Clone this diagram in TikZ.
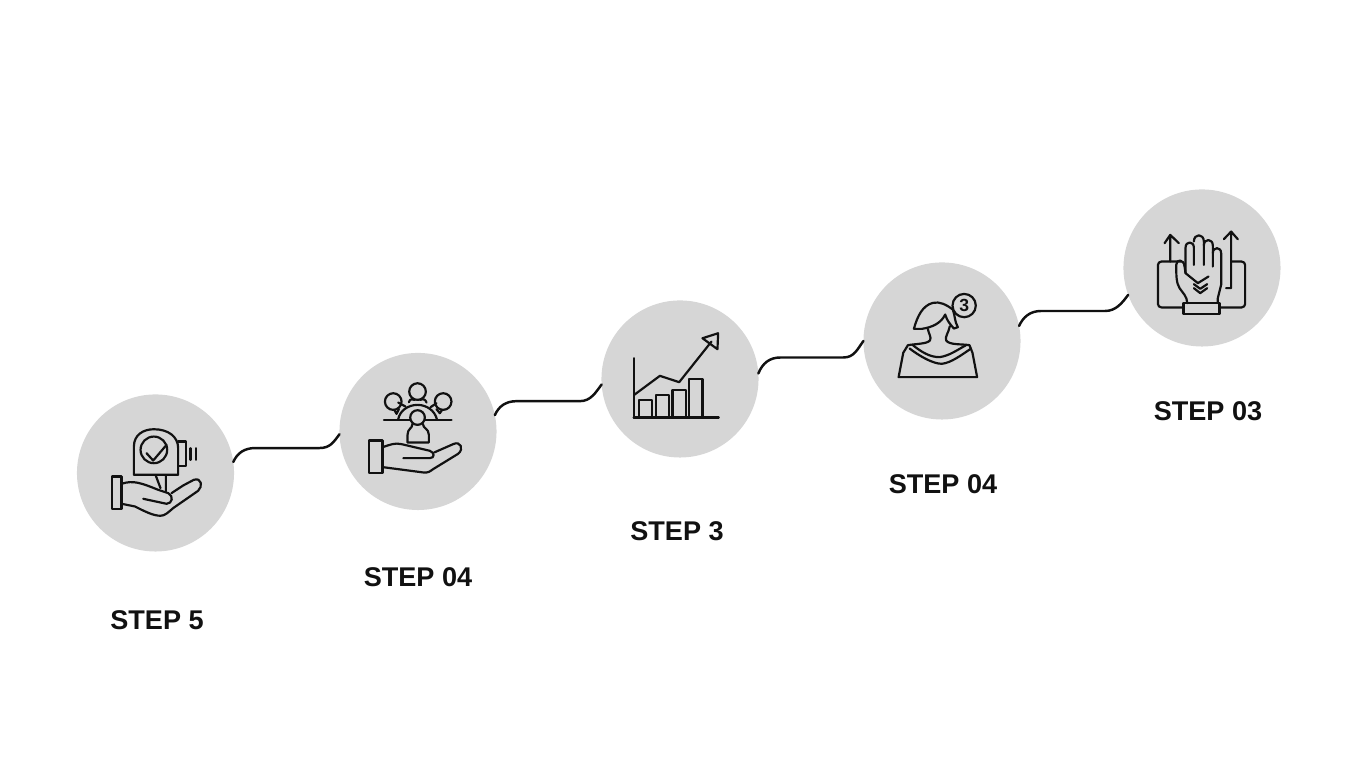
\documentclass[tikz,border=0pt]{standalone}
\usepackage{fontspec}
\usepackage{xcolor}
\setmainfont{Liberation Sans}
\definecolor{discgray}{HTML}{D6D6D6}
\definecolor{inkblack}{HTML}{111111}
\tikzset{
disc/.style={shape=circle,fill=discgray,minimum size=1.57cm,inner sep=0pt,outer sep=0pt},
steplabel/.style={font=\bfseries\fontsize{7.7pt}{9pt}\selectfont,text=inkblack,inner sep=0pt},
link/.style={line width=.7pt,inkblack,line cap=round},
icon/.style={x=0.0033333cm,y=-0.0033333cm,line width=.62pt,inkblack,line join=round,line cap=round}
}
\begin{document}
\begin{tikzpicture}[x=0.01cm,y=0.01cm]
\useasboundingbox(0,0)rectangle(1365,768);
\node[disc](s1)at(155.5,295){};
\node[disc](s2)at(418,336.5){};
\node[disc](s3)at(680,389){};
\node[disc](s4)at(942,427){};
\node[disc](s5)at(1202,500){};
\node[steplabel](l1)at(157,148){STEP 5};
\node[steplabel](l2)at(418,191){STEP 04};
\node[steplabel](l3)at(677,237){STEP 3};
\node[steplabel](l4)at(943,284){STEP 04};
\node[steplabel](l5)at(1208,357){STEP 03};
\draw[link](s1.8)..controls+(4,9)and+(-11,0)..++(22,14)--++(64,0)..controls+(11,0)and+(-6,-8)..(s2.182);
\draw[link](s2.12)..controls+(4,9)and+(-11,0)..++(22,14)--++(63,0)..controls+(11,0)and+(-6,-8)..(s3.184);
\draw[link](s3.4)..controls+(4,10)and+(-11,0)..++(22,16)--++(63,0)..controls+(11,0)and+(-6,-8)..(s4.180);
\draw[link](s4.11)..controls+(4,9)and+(-11,0)..++(22,15)--++(64,0)..controls+(11,0)and+(-6,-8)..(s5.200);
%hand and tape
\begin{scope}[shift={(70,378)},icon]
\draw(125,260)rectangle(155,358);
\draw(155,282)..controls(190,270)and(215,280)..(265,300)--(295,310)..controls(312,318)and(308,342)..(290,342)--(220,327);
\draw(155,342)--(195,350)..controls(225,365)and(250,378)..(272,378)..controls(285,378)and(295,368)..(310,355)--(385,303)..controls(400,290)and(395,262)..(372,270)--(340,287)--(305,310);
\draw(192,255)--(192,170)..controls(192,135)and(220,118)..(252,118)..controls(295,118)and(325,140)..(325,175)--(325,255)--cycle;
\draw(252,180)circle(40);
\draw(230,190)--(250,212)--(290,165);
\draw(325,155)--(348,155)--(348,228)--(325,228);
\draw(362,175)--(362,210)(378,175)--(378,210);
\draw(258,258)--(272,295)(288,258)--(288,305);
\end{scope}
%hand and people
\begin{scope}[shift={(335,418)},icon]
\draw(102,272)rectangle(143,370);
\draw(143,292)..controls(165,285)and(180,278)..(200,283)--(285,303)..controls(300,308)and(300,325)..(285,325)--(205,325);
\draw(143,352)--(265,368)..controls(280,370)and(285,365)..(295,358)--(370,312)..controls(388,298)and(378,272)..(355,283)--(298,308);
\draw(147,210)--(350,210);
\draw(190,208)..controls(195,182)and(220,165)..(248,165)..controls(275,165)and(300,182)..(306,208);
\draw[fill=discgray](248,203)circle(22);
\draw(233,222)..controls(232,238)and(218,235)..(218,255)--(218,278)--(282,278)--(282,255)..controls(282,235)and(265,238)..(264,222);
\draw(248,125)circle(25);
\draw(222,157)..controls(225,145)and(235,148)..(240,150)(256,150)..controls(265,146)and(272,148)..(275,158);
\draw(175,155)circle(25);
\draw(325,155)circle(25);
\draw(178,180)--(185,192)--(192,178)(190,158)--(212,170);
\draw(322,180)--(315,190)--(305,178)(305,160)--(287,172);
\end{scope}
%bars and arrow
\begin{scope}[shift={(595,473)},icon]
\draw(118,190)--(118,368)(116,368)--(372,368);
\draw(133,368)--(133,316)--(172,316)--(172,368);
\draw(183,368)--(183,300)--(222,300)--(222,368);
\draw(233,368)--(233,285)--(273,285)--(273,368);
\draw(283,368)--(283,252)--(323,252)--(323,368);
\draw(118,300)--(195,243)--(253,262)--(350,140);
\draw(323,130)--(370,115)--(368,163)--cycle;
\end{scope}
%person with bubble
\begin{scope}[shift={(858,510)},icon]
\draw(168,213)--(192,213)..controls(225,208)and(250,195)..(262,170)..controls(268,190)and(278,200)..(288,212)--(300,208)..controls(290,190)and(292,175)..(285,155)..controls(265,140)and(245,130)..(225,135)..controls(195,142)and(178,175)..(168,213);
\draw(210,213)..controls(212,228)and(222,238)..(216,248)..controls(208,258)and(175,258)..(150,262)--(136,285)--(122,358)--(358,358)--(344,285)--(335,262)..controls(310,258)and(275,262)..(265,248)..controls(260,238)and(272,225)..(276,205);
\draw(165,262)..controls(190,282)and(215,298)..(245,298)..controls(275,294)and(300,275)..(325,262);
\draw(155,272)..controls(185,295)and(225,318)..(252,318)..controls(280,315)and(310,292)..(340,272);
\draw(319,143)circle(35);
\node[font=\bfseries\fontsize{5pt}{6pt}\selectfont,text=inkblack,inner sep=0pt](b4)at(319,143){3};
\end{scope}
%hand with arrows
\begin{scope}[shift={(1118,583)},icon]
\draw[rounded corners=1pt](197,368)--(120,368)--(120,230)--(190,230);
\draw[rounded corners=1pt](305,368)--(382,368)--(382,230)--(340,230);
\draw(157,230)--(157,150)(140,175)--(157,150)--(183,175);
\draw(325,310)--(340,310)--(340,140)(318,163)--(340,140)--(360,163);
\draw(197,355)rectangle(305,388);
\draw(208,355)..controls(208,335)and(195,325)..(185,310)..controls(175,295)and(175,270)..(175,240)..controls(175,222)and(198,222)..(200,245)--(203,265)--(240,295)--(272,275);
\draw(203,265)--(203,188)..controls(203,168)and(228,168)..(228,188)--(228,240);
\draw(228,170)..controls(228,145)and(258,145)..(258,170)--(258,240);
\draw(258,182)..controls(258,160)and(285,160)..(285,182)--(285,245);
\draw(285,205)..controls(285,185)and(310,185)..(310,205)--(310,300)--(300,340)--(300,355);
\draw(228,298)--(247,312)--(268,298)(228,310)--(247,325)--(268,310);
\end{scope}
\end{tikzpicture}
\end{document}
